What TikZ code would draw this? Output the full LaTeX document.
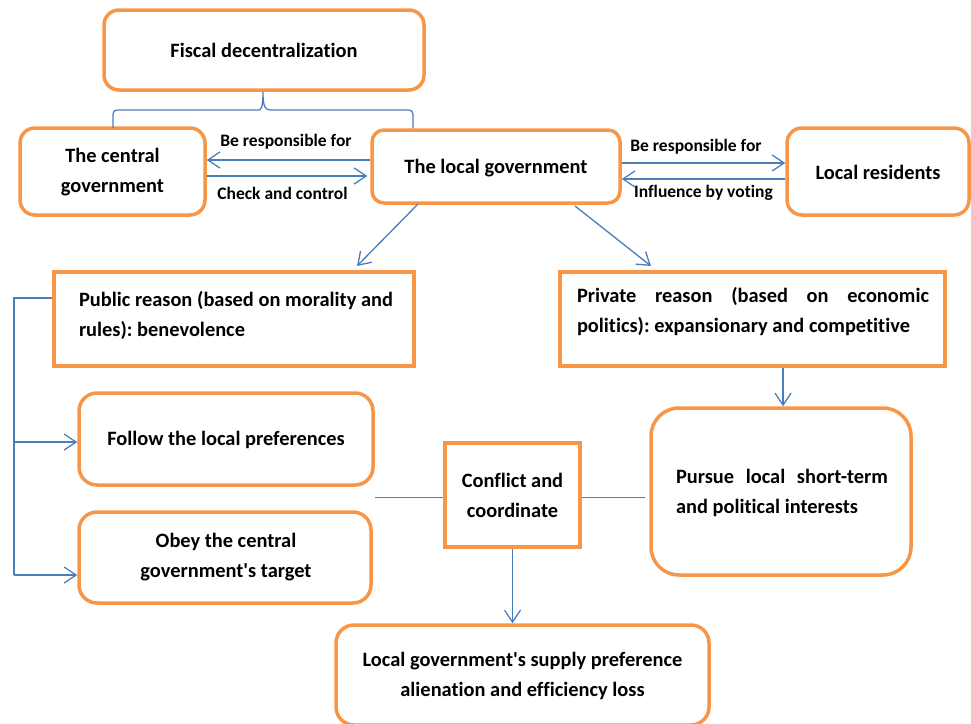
\documentclass[tikz,border=0pt]{standalone}
\usepackage{fontspec}
\setmainfont{Carlito}[Ligatures={TeXOff,CommonOff}]
\usetikzlibrary{arrows.meta}
\definecolor{boxorange}{HTML}{F79646}
\definecolor{linkblue}{HTML}{4A7EBB}
\frenchspacing
\newcommand\mainfnt{\bfseries\fontsize{20.4}{30}\selectfont\frenchspacing\hyphenpenalty=10000\exhyphenpenalty=10000}
\newcommand\lblfnt{\bfseries\fontsize{17.5}{21}\selectfont}
\tikzset{
  rbox/.style={draw=boxorange, line width=3.5pt, rounded corners=15pt, fill=white, inner sep=0pt},
  sbox/.style={rbox, rounded corners=0pt},
  txt/.style={font=\mainfnt, align=center, inner sep=0pt},
  jtxt/.style={font=\mainfnt, align=justify, inner sep=0pt},
  lbl/.style={font=\lblfnt, inner sep=0pt},
  conn/.style={draw=linkblue, line width=1.3pt},
  arr/.style={conn, -{Straight Barb[length=12pt,width=16pt,line width=1.3pt]}},
}
\begin{document}
\begin{tikzpicture}[x=1pt,y=-1pt]
\useasboundingbox (0,0) rectangle (971,723);
\clip (0,0) rectangle (971,723);
% boxes
\node[rbox, minimum width=320, minimum height=80] (fiscal) at (264,50) {};
\node[txt] (fiscalt) at (264,50) {Fiscal decentralization};
\node[rbox, minimum width=185, minimum height=87] (central) at (112.5,171.5) {};
\node[txt] (centralt) at (112.5,172) {The central\\government};
\node[rbox, rounded corners=12pt, minimum width=248, minimum height=73] (local) at (496,166.5) {};
\node[txt] (localt) at (496,168) {The local government};
\node[rbox, minimum width=182, minimum height=87] (resid) at (878,171.5) {};
\node[txt] (residt) at (878,172) {Local residents};
\node[sbox, minimum width=360, minimum height=94] (public) at (234,319) {};
\node[jtxt, text width=314] (publict) at (236,315) {Public reason (based on morality and rules): benevolence};
\node[sbox, minimum width=385, minimum height=94] (private) at (752.5,319) {};
\node[jtxt, text width=352] (privatet) at (753,312) {Private reason (based on economic politics): expansionary and competitive};
\node[rbox, rounded corners=18pt, minimum width=294, minimum height=92] (follow) at (226,439) {};
\node[txt] (followt) at (226,440) {Follow the local preferences};
\node[rbox, rounded corners=18pt, minimum width=292, minimum height=91] (obey) at (225,557.5) {};
\node[txt] (obeyt) at (226,557) {Obey the central\\government's target};
\node[sbox, minimum width=135, minimum height=104] (conflict) at (512.5,495) {};
\node[txt] (conflictt) at (512.5,495) {Conflict and\\coordinate};
\node[rbox, rounded corners=28pt, minimum width=260, minimum height=167] (pursue) at (781,491.5) {};
\node[jtxt, text width=212] (pursuet) at (782,493) {Pursue local short-term and political interests};
\node[rbox, rounded corners=18pt, minimum width=373, minimum height=100] (bottom) at (522.5,675) {};
\node[txt] (bottomt) at (522.5,676) {Local government's supply preference\\alienation and efficiency loss};
% edge labels
\node[lbl] (l1) at (286,142) {Be responsible for};
\node[lbl] (l2) at (282.5,193) {Check and control};
\node[lbl] (l3) at (696,147) {Be responsible for};
\node[lbl] (l4) at (703.5,193) {Influence by voting};
% brace
\coordinate (bl) at (113,128);
\coordinate (br) at (413,128);
\coordinate (bt) at (263,92);
\draw[conn] (bl) [rounded corners=4pt] -- (113,110) -- (255,110) [sharp corners]
  .. controls (261,110) and (263,107) .. (bt)
  .. controls (263,107) and (265,110) .. (271,110) [rounded corners=4pt] -- (413,110) -- (br);
% horizontal arrows
\draw[arr] ([yshift=6.5pt]local.west) -- ([yshift=11.5pt]central.east);
\draw[arr] ([yshift=-4.5pt]central.east) -- ([xshift=-3pt,yshift=-9.5pt]local.west);
\draw[arr] ([yshift=3.5pt]local.east) -- ([yshift=8.5pt]resid.west);
\draw[arr] ([yshift=-7.5pt]resid.west) -- ([yshift=-12.5pt]local.east);
% diagonal arrows
\coordinate (d1s) at (418,204);
\coordinate (d1e) at (357,266);
\coordinate (d2s) at (575,206);
\coordinate (d2e) at (651,266);
\draw[arr] (d1s) -- (d1e);
\draw[arr] (d2s) -- (d2e);
% left bracket
\coordinate (lb) at (14,298);
\coordinate (la) at (14,442);
\coordinate (lc) at (14,575);
\draw[conn] (public.west |- lb) -- (lb) -- (lc);
\draw[arr] (la) -- (follow.west |- la);
\draw[arr] (lc) -- (obey.west |- lc);
% conflict lines
\coordinate (mid) at (0,497.5);
\draw[conn] (follow.east |- mid) -- (conflict.west |- mid);
\draw[conn] (conflict.east |- mid) -- ([xshift=-4pt]pursue.west |- mid);
% vertical arrows
\coordinate (pv) at (783,0);
\draw[arr] (private.south -| pv) -- (pursue.north -| pv);
\draw[arr] (conflict.south) -- (conflict.south |- bottom.north);
\end{tikzpicture}
\end{document}
